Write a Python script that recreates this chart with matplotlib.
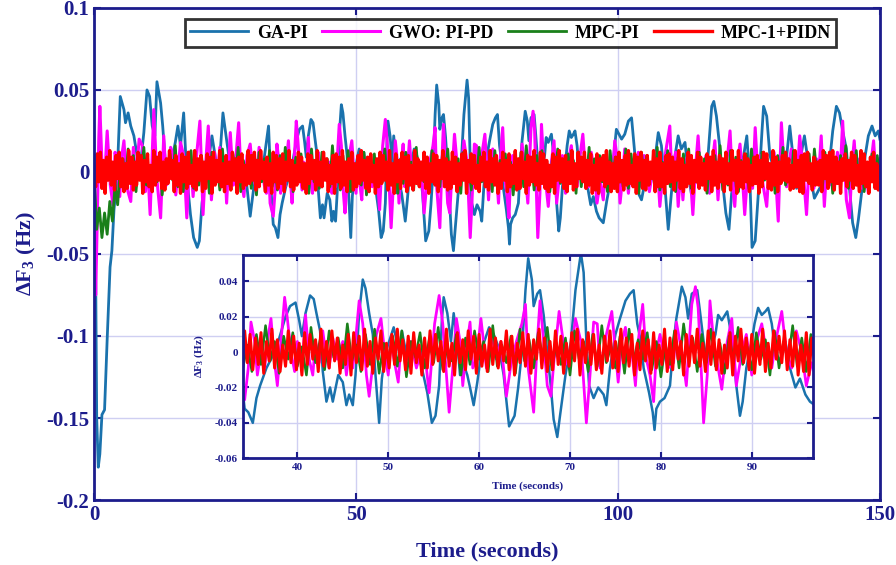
import numpy as np
import matplotlib
matplotlib.use("Agg")
import matplotlib.pyplot as plt

# GA-PI: (time s, deviation mHz)
ga_t = [0, 0.3, 0.5, 0.8, 1.1, 1.5, 2.0, 2.5, 3.05, 3.4, 3.8, 4.4, 5.0, 5.7, 6.0, 6.5, 7.0, 7.6, 8.2, 8.9,
        9.5, 10.1, 10.6, 11.1, 11.6, 12.0, 12.7, 13.1, 13.6, 14.3, 14.9, 15.5, 16.0, 16.5, 17.1, 17.7, 18.4, 19.0, 19.7, 20.1,
        20.6, 21.3, 21.9, 22.5, 23.2, 23.8, 24.6, 25.1, 25.7, 26.4, 27.0, 28.0, 28.9, 29.8, 30.5, 31.3, 32.2, 33.3, 33.9, 34.2,
        34.6, 35.1, 35.5, 35.9, 36.6, 37.4, 37.9, 38.7, 39.2, 39.8, 40.2, 40.5, 40.9, 41.4, 41.8, 42.1, 42.5, 42.8, 43.2, 43.6,
        43.9, 44.5, 45.0, 45.4, 45.7, 46.1, 46.4, 46.8, 47.2, 47.5, 47.9, 48.3, 48.6, 49.0, 49.3, 49.7, 50.1, 50.6, 51.2, 51.5,
        52.1, 52.6, 53.2, 53.7, 54.3, 54.8, 55.2, 55.6, 55.9, 56.1, 56.5, 56.9, 57.2, 57.6, 57.9, 58.3, 58.7, 59.0, 59.4, 59.8,
        60.3, 61.1, 61.6, 62.2, 62.7, 63.3, 63.9, 64.3, 64.7, 65.1, 65.4, 65.8, 66.0, 66.4, 66.7, 67.1, 67.5, 67.9, 68.2, 68.6,
        68.9, 69.5, 70.1, 70.6, 71.0, 71.2, 71.5, 71.8, 72.1, 72.6, 73.1, 73.7, 74.0, 74.4, 75.0, 75.5, 76.1, 76.6, 77.0, 77.4,
        77.8, 78.1, 78.7, 79.1, 79.3, 79.5, 79.9, 80.4, 81.0, 81.4, 81.7, 82.3, 82.7, 83.0, 83.4, 84.0, 84.3, 84.7, 85.1, 85.4,
        86.0, 86.3, 86.7, 87.3, 87.6, 88.0, 88.3, 88.7, 89.0, 89.4, 90.0, 90.3, 90.7, 91.1, 91.5, 91.8, 92.2, 92.6, 93.1, 93.7,
        94.2, 94.8, 95.3, 95.9, 96.4, 97.2, 97.9, 98.9, 99.7, 100.7, 101.3, 102.0, 102.6, 103.2, 103.9, 104.5, 105.1, 106.1, 107.0, 107.7,
        108.3, 109.0, 109.6, 110.2, 110.9, 111.5, 112.1, 112.8, 113.4, 114.0, 114.7, 115.6, 116.6, 117.2, 117.9, 118.3, 118.8, 119.4, 120.1, 120.6,
        121.2, 121.7, 123.0, 124.0, 124.6, 125.2, 125.6, 126.2, 126.8, 127.5, 127.8, 128.4, 129.0, 130.0, 130.9, 131.9, 132.8, 133.4, 134.1, 134.7,
        135.6, 136.6, 137.5, 138.5, 139.4, 140.4, 141.0, 141.7, 142.3, 142.9, 143.6, 144.2, 144.8, 145.4, 145.9, 146.5, 147.2, 147.8, 148.5, 149.1,
        149.7, 150.0]
ga_v = [0, -60, -150, -180, -172, -148, -145, -102, -58, -48, -23, -3, 46, 38, 30, 36, 28, 22, 10, 6,
        24, 50, 46, 28, 22, 55, 42, 28, 6, 2, 8, 18, 28, 16, 36, -3, -26, -40, -46, -42,
        -19, -1, 8, 22, 8, -1, 36, 24, 10, -1, -7, 4, -1, -27, -9, 8, 2, 28, -18, -32,
        -34, -40, -26, -19, -9, -1, 6, 20, 26, 28, 18, 9, 22, 32, 30, 22, 12, -11, -28, -20,
        -28, -13, -17, -30, -24, -30, -13, 22, 41, 36, 22, 10, -13, -40, -15, 0, 6, 14, 0, 12,
        -4, 0, 1, -9, -23, -40, -36, -19, 18, 31, 22, 6, 22, 6, -13, -7, -13, -20, -30, -17,
        2, 14, 10, 2, -13, -42, -36, -20, 0, 35, 53, 41, 26, 33, 35, 21, 0, -20, -38, -48,
        -36, -13, 6, 35, 49, 56, 45, 6, -19, -26, -20, -24, -30, -9, 10, 19, 29, 33, 35, 16,
        6, -9, -23, -34, -44, -32, -28, -26, -19, 6, 19, 37, 31, 19, 33, 35, 23, 6, -7, 0,
        10, 21, 18, 23, 14, -2, -19, -36, -28, -9, 6, 16, 25, 21, 23, 25, 16, 0, -5, 6,
        -9, -20, -15, -24, -28, -31, -17, 0, 26, 20, 23, 31, 33, 12, -13, -17, -7, 0, 6, 24,
        16, -10, -35, -13, 10, 22, 14, 18, 0, -13, -7, 0, 4, 10, 40, 43, 34, 16, -10, -25,
        -35, -13, 0, 10, 22, -6, -46, -42, -13, 25, 40, 34, 10, 0, -6, 0, 28, 10, -10, 6,
        22, 0, -16, -10, -6, 6, 25, 40, 36, 25, 14, -10, -31, -40, -29, -13, 10, 22, 28, 22,
        25, 20]

# GWO: PI-PD
gwo_t = [0, 0.3, 0.6, 0.9, 1.1, 1.5, 1.9, 2.5, 3.1, 3.6, 4.0, 4.4, 4.9, 5.3, 5.7, 6.3, 7.0, 7.5, 8.0, 8.6,
         9.2, 9.8, 10.2, 10.7, 11.4, 12.0, 12.7, 13.3, 13.8, 14.2, 14.6, 15.1, 15.6, 16.0, 16.5, 17.1, 17.7, 18.3, 18.9, 19.5,
         20.2, 20.8, 21.3, 21.8, 22.4, 23.0, 23.5, 24.0, 24.4, 24.9, 25.3, 26.0, 26.6, 27.1, 27.6, 28.1, 28.6, 29.2, 29.8, 30.4,
         31.0, 31.5, 32.0, 32.5, 32.9, 33.3, 33.6, 34.2, 34.6, 34.9, 35.3, 35.6, 36.0, 36.4, 36.7, 37.1, 37.5, 37.8, 38.2, 38.6,
         38.9, 39.3, 39.7, 40.0, 40.6, 40.9, 41.3, 41.7, 42.0, 42.4, 42.8, 43.1, 43.5, 43.9, 44.4, 45.0, 45.4, 45.7, 46.1, 46.5,
         46.8, 47.2, 47.6, 47.9, 48.3, 48.7, 49.2, 49.6, 50.0, 50.3, 50.7, 51.1, 51.4, 52.0, 52.5, 53.1, 53.6, 54.2, 54.5, 55.1,
         55.6, 56.0, 56.4, 56.7, 57.1, 57.5, 57.9, 58.2, 58.6, 59.0, 59.3, 59.7, 60.2, 60.8, 61.3, 61.9, 62.4, 63.0, 63.5, 64.1,
         64.7, 65.1, 65.4, 66.0, 66.4, 66.7, 67.1, 67.5, 67.9, 68.2, 68.8, 69.2, 69.5, 70.1, 70.6, 71.2, 71.5, 71.8, 72.2, 72.6,
         73.0, 73.3, 73.7, 74.0, 74.6, 75.0, 75.3, 75.7, 76.1, 76.4, 76.8, 77.2, 77.5, 78.0, 78.4, 78.8, 79.2, 79.5, 79.9, 80.3,
         80.8, 81.4, 81.7, 82.3, 82.8, 83.4, 83.8, 84.1, 84.5, 84.7, 85.1, 85.4, 85.8, 86.3, 86.7, 87.3, 87.8, 88.3, 88.9, 89.4,
         90.0, 90.5, 91.1, 91.6, 92.2, 92.7, 93.3, 93.8, 94.4, 94.9, 95.5, 96.0, 96.6, 97.2, 97.7, 98.2, 98.8, 99.4, 100.0, 100.4,
         100.9, 101.3, 102.0, 102.5, 103.2, 103.9, 104.5, 105.0, 105.5, 106.0, 106.4, 107.0, 107.5, 108.0, 108.5, 109.0, 109.9, 110.3, 110.6, 111.0,
         111.5, 112.0, 112.4, 113.0, 113.4, 113.9, 114.3, 114.8, 115.3, 115.8, 116.2, 116.8, 117.5, 118.0, 118.5, 119.1, 119.6, 120.1, 120.6, 121.0,
         121.4, 121.9, 122.3, 122.8, 123.3, 123.8, 124.2, 124.7, 125.2, 125.7, 126.2, 126.6, 127.1, 127.7, 128.4, 128.9, 129.3, 129.8, 130.2, 130.6,
         131.2, 131.7, 132.2, 132.6, 133.1, 133.6, 134.1, 134.7, 135.3, 136.0, 136.5, 136.9, 137.4, 137.9, 138.3, 138.8, 139.4, 139.9, 140.4, 140.9,
         141.4, 141.9, 142.4, 142.9, 143.6, 144.2, 144.7, 145.1, 145.6, 146.1, 146.6, 147.2, 147.8, 148.3, 148.8, 149.3, 149.7, 150.0]
gwo_v = [0, -75, -30, 20, 40, 5, -10, 25, -8, -20, 12, 7, -15, 10, 19, -10, -18, 15, -5, 20,
         16, -12, 5, -26, 38, -5, -28, 22, -8, -6, 15, 10, -14, 0, 18, 10, -28, 12, -15, 8,
         31, -26, 5, 28, -17, 12, -5, 15, -9, 8, -19, 24, -8, 10, 30, -6, -15, 10, 17, -5,
         -9, 15, 6, -8, -13, 8, -19, -27, -9, 17, 6, -13, 0, -9, 6, 19, -6, -19, 6, 31,
         19, 0, -11, 6, -2, 21, -4, -13, 6, -6, 12, 0, -9, 8, -4, 6, -13, 0, -9, 12,
         29, 16, -13, -25, -7, 10, 19, 0, -13, 6, -6, -17, 4, -4, 6, -9, 0, -9, -23, 16,
         32, 16, -13, -34, -9, 19, 6, -19, 2, 17, -9, -4, 19, -9, 12, -4, 6, -25, -7, 6,
         16, 27, -9, -34, 6, 29, 6, -19, -25, -7, 23, 8, -7, -1, 19, 6, -17, -40, -13, 17,
         16, -9, 0, 10, 23, 0, -17, 6, 14, -4, 0, -19, 6, 27, -4, -13, -28, 0, 10, 0,
         -9, -6, 17, 0, -19, 27, 37, 25, -17, -40, -13, 29, 6, -9, -21, 6, 19, -19, 0, 10,
         -13, 6, 16, 0, -9, 8, 23, 0, -9, 12, 0, -19, -6, -17, 8, 6, -10, 19, 5, -19,
         -3, 14, -13, 8, -6, 12, -9, 10, 6, -12, -4, 12, 5, -21, -3, 10, 28, -5, 0, 12,
         -21, 3, -17, 8, 6, -6, -26, 2, 22, -4, 0, 10, -13, 5, 19, -17, 8, -9, 4, 12,
         25, -9, -21, 5, 17, -5, -26, -3, 6, -10, 27, 4, 10, -8, -21, 5, 0, 12, -8, -30,
         30, 3, -9, 5, 14, -4, -9, 22, 3, -26, 5, 2, -10, 8, -3, 22, -21, 6, -8, 10,
         -5, 12, -3, 31, -17, -28, 5, 19, -5, 8, -10, 6, -13, 5, 19, -6, 0, 8]

# MPC-PI, sampled every 0.5 s
mpc_pi_v = [0, -35, -22, -40, -25, -38, -18, -30, -8, -20, 2,
            8, -6, 14, -4, 10, -12, 6, -3, 15, -8,
            4, -10, 12, -6, 9, -14, 3, -7, 11, -5,
            16, -9, 5, -12, 8, -4, 13, -10, 2, -8,
            10, -6, 7, -13, 12, -3, 6, -11, 14, -7,
            3, -9, 11, -5, 15, -12, 7, -4, 9, -10,
            5, -14, 12, -6, 8, -3, 13, -9, 4, -11,
            10, -7, 15, -5, 6, -12, 9, -4, 11, -8,
            3, -13, 14, -6, 7, -10, 12, -3, 8, -9,
            16, -5, 4, -11, 10, -7, 13, -12, 5, -4,
            9, -8, 12, -14, 6, -3, 11, -9, 7, -6,
            14, -10, 3, -5, 10, -13, 8, -7, 12, -4,
            6, -11, 15, -8, 4, -6, 9, -12, 13, -5,
            7, -9, 11, -3, 14, -10, 5, -7, 8, -13,
            12, -4, 6, -11, 10, -8, 15, -6, 3, -9,
            9, -12, 13, -5, 7, -4, 11, -10, 6, -14,
            4, -7, 12, -9, 16, -3, 8, -11, 10, -6,
            13, -8, 5, -12, 9, -5, 14, -7, 3, -10,
            11, -4, 7, -13, 12, -9, 6, -5, 15, -8,
            8, -11, 10, -6, 4, -12, 13, -3, 9, -7,
            5, -9, 14, -10, 11, -5, 7, -13, 12, -4,
            10, -6, 3, -8, 15, -11, 6, -4, 13, -9,
            7, -12, 9, -5, 11, -7, 14, -10, 4, -6,
            12, -3, 8, -13, 6, -9, 10, -5, 16, -11,
            5, -8, 13, -4, 9, -12, 7, -6, 11, -10,
            14, -7, 4, -11, 12, -5, 8, -9, 6, -13,
            10, -4, 15, -8, 3, -10, 13, -6, 7, -12,
            9, -5, 11, -9, 14, -3, 6, -11, 12, -8,
            8, -13, 5, -7, 10, -4, 16, -10, 9, -6,
            13, -9, 7, -12, 4, -5, 11, -8, 10, -7]
mpc_pi_dt = 0.5

# MPC-1+PIDN, sampled every 0.3 s
mpc_pidn_v = [0, -9, 11, -6, 12, -10, 7, -13, 9, -5,
              13, -8, 6, -11, 10, -4, 12, -9, 8, -12,
              5, -10, 13, -7, 9, -11, 6, -8, 12, -5,
              10, -13, 7, -6, 11, -9, 4, -12, 13, -8,
              9, -5, 12, -10, 6, -11, 8, -7, 13, -4,
              7, -12, 10, -8, 5, -13, 11, -6, 9, -10,
              12, -7, 4, -9, 13, -11, 8, -5, 10, -12,
              6, -10, 11, -4, 9, -13, 12, -8, 7, -6,
              13, -9, 5, -12, 10, -7, 6, -11, 12, -5,
              8, -13, 9, -6, 11, -10, 4, -8, 13, -7,
              10, -5, 12, -11, 7, -9, 13, -4, 6, -12,
              9, -8, 5, -13, 12, -6, 10, -10, 8, -7,
              11, -12, 6, -5, 13, -9, 7, -11, 4, -8,
              12, -6, 9, -10, 5, -13, 11, -7, 10, -4,
              7, -11, 13, -8, 6, -9, 12, -5, 8, -12,
              4, -7, 10, -13, 11, -6, 9, -10, 13, -8,
              6, -12, 8, -4, 12, -11, 5, -9, 10, -7,
              13, -5, 7, -10, 9, -12, 11, -6, 4, -13,
              8, -9, 12, -7, 10, -5, 6, -11, 13, -8,
              5, -13, 11, -6, 7, -10, 12, -4, 9, -12,
              10, -8, 4, -11, 13, -7, 8, -9, 6, -5,
              12, -10, 9, -13, 5, -6, 11, -8, 10, -12,
              7, -4, 13, -9, 8, -11, 6, -10, 12, -7,
              9, -12, 5, -8, 11, -5, 13, -13, 7, -6,
              11, -7, 10, -10, 4, -12, 9, -5, 12, -9,
              6, -11, 13, -6, 8, -8, 10, -13, 5, -10,
              12, -5, 7, -12, 11, -9, 4, -7, 13, -11,
              8, -10, 12, -4, 6, -13, 10, -8, 9, -6,
              13, -8, 5, -11, 12, -7, 11, -10, 7, -12,
              4, -9, 11, -13, 9, -5, 13, -6, 8, -10,
              10, -12, 6, -7, 13, -11, 5, -9, 12, -4,
              9, -6, 12, -10, 7, -8, 11, -13, 4, -11,
              11, -13, 8, -5, 10, -9, 13, -7, 6, -12,
              5, -10, 9, -12, 12, -6, 7, -11, 10, -8,
              13, -7, 4, -9, 11, -13, 9, -5, 12, -10,
              7, -11, 10, -8, 6, -4, 13, -12, 8, -9,
              12, -9, 5, -13, 10, -7, 11, -6, 9, -11,
              6, -5, 13, -10, 8, -12, 4, -9, 12, -7,
              10, -13, 7, -6, 12, -10, 9, -8, 5, -11,
              11, -4, 9, -12, 13, -8, 6, -10, 10, -6,
              8, -12, 12, -7, 5, -11, 13, -5, 7, -13,
              13, -9, 6, -10, 11, -6, 8, -12, 4, -8,
              9, -7, 10, -13, 7, -9, 12, -4, 11, -10,
              5, -11, 13, -8, 9, -12, 6, -7, 10, -5,
              12, -6, 8, -11, 4, -10, 13, -9, 7, -12,
              10, -13, 11, -5, 12, -7, 5, -11, 9, -8,
              6, -8, 7, -12, 13, -4, 10, -10, 12, -6,
              13, -11, 9, -7, 6, -13, 8, -5, 11, -9,
              7, -5, 12, -10, 10, -8, 4, -12, 13, -7,
              11, -9, 6, -13, 9, -6, 12, -10, 5, -11,
              3]
mpc_pidn_dt = 0.3

labels = ['GA-PI', 'GWO: PI-PD', 'MPC-PI', 'MPC-1+PIDN']
colors = ['#1a72ad', '#ff00ff', '#1a801a', '#ff0000']

navy = '#1c1c8c'
gridc = '#cfcff2'
plt.rcParams['font.family'] = ['Liberation Serif', 'DejaVu Serif']
plt.rcParams['font.weight'] = 'bold'
plt.rcParams['mathtext.fontset'] = 'custom'
plt.rcParams['mathtext.rm'] = 'Liberation Serif:bold'
plt.rcParams['mathtext.bf'] = 'Liberation Serif:bold'

series = [
    (np.array(ga_t), np.array(ga_v) / 1000, 2.0),
    (np.array(gwo_t), np.array(gwo_v) / 1000, 2.2),
    (np.arange(len(mpc_pi_v)) * mpc_pi_dt, np.array(mpc_pi_v) / 1000, 2.0),
    (np.arange(len(mpc_pidn_v)) * mpc_pidn_dt, np.array(mpc_pidn_v) / 1000, 2.4),
]

fig = plt.figure(figsize=(8.96, 5.65), dpi=100)
ax = fig.add_axes([0.105, 0.115, 0.877, 0.871])


def style(a, fs, ln):
    a.grid(True, color=gridc, linewidth=1.0)
    a.set_axisbelow(True)
    for s in a.spines.values():
        s.set_color(navy)
        s.set_linewidth(2.0)
    a.tick_params(direction='in', colors=navy, labelcolor=navy, labelsize=fs,
                  top=True, right=True, width=1.5, length=ln)
    for lab in a.get_xticklabels() + a.get_yticklabels():
        lab.set_fontweight('bold')


for (t, v, lw), lab, c in zip(series, labels, colors):
    ax.plot(t, v, color=c, lw=lw, label=lab)
ax.set_xlim(0, 150)
ax.set_ylim(-0.2, 0.1)
ax.set_xticks([0, 50, 100, 150])
ax.set_yticks([-0.2, -0.15, -0.1, -0.05, 0, 0.05, 0.1])
ax.set_yticklabels(['-0.2', '-0.15', '-0.1', '-0.05', '0', '0.05', '0.1'])
style(ax, 15, 5)
ax.set_xlabel('Time (seconds)', color=navy, fontsize=16, fontweight='bold', labelpad=12)
ax.set_ylabel(r'$\Delta$F$_3$ (Hz)', color=navy, fontsize=16, fontweight='bold', labelpad=6)

leg = ax.legend(loc='upper center', bbox_to_anchor=(0.53, 0.995), ncol=4, fontsize=13,
                frameon=True, fancybox=False, edgecolor='black', handlelength=3.2,
                columnspacing=0.8, handletextpad=0.5, borderpad=0.3)
leg.get_frame().set_linewidth(2.0)
for txt in leg.get_texts():
    txt.set_fontweight('bold')

ins = fig.add_axes([0.271, 0.189, 0.636, 0.36])
for (t, v, lw), c in zip(series, colors):
    ins.plot(t, v, color=c, lw=lw * 0.9)
ins.set_xlim(34, 96.7)
ins.set_ylim(-0.06, 0.055)
ins.set_xticks([40, 50, 60, 70, 80, 90])
ins.set_yticks([-0.06, -0.04, -0.02, 0, 0.02, 0.04])
ins.set_yticklabels(['-0.06', '-0.04', '-0.02', '0', '0.02', '0.04'])
style(ins, 8, 4)
ins.set_xlabel('Time (seconds)', color=navy, fontsize=8, fontweight='bold', labelpad=7)
ins.set_ylabel(r'$\Delta$F$_3$ (Hz)', color=navy, fontsize=8, fontweight='bold', labelpad=6)

fig.savefig('out.png', dpi=100)
